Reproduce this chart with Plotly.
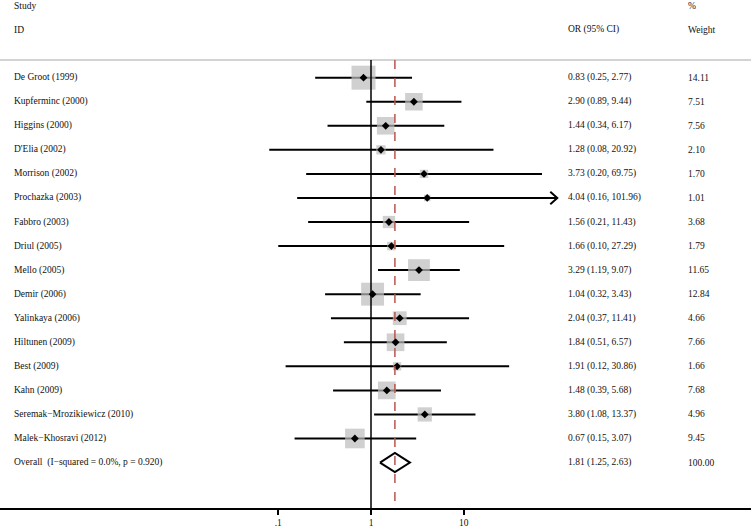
import math
import plotly.graph_objects as go

studies = ["De Groot (1999)", "Kupferminc (2000)", "Higgins (2000)", "D'Elia (2002)",
           "Morrison (2002)", "Prochazka (2003)", "Fabbro (2003)", "Driul (2005)",
           "Mello (2005)", "Demir (2006)", "Yalinkaya (2006)", "Hiltunen (2009)",
           "Best (2009)", "Kahn (2009)", "Seremak\u2212Mrozikiewicz (2010)", "Malek\u2212Khosravi (2012)"]
odds = [0.83, 2.90, 1.44, 1.28, 3.73, 4.04, 1.56, 1.66, 3.29, 1.04, 2.04, 1.84, 1.91, 1.48, 3.80, 0.67]
lower = [0.25, 0.89, 0.34, 0.08, 0.20, 0.16, 0.21, 0.10, 1.19, 0.32, 0.37, 0.51, 0.12, 0.39, 1.08, 0.15]
upper = [2.77, 9.44, 6.17, 20.92, 69.75, 101.96, 11.43, 27.29, 9.07, 3.43, 11.41, 6.57, 30.86, 5.68, 13.37, 3.07]
weights = [14.11, 7.51, 7.56, 2.10, 1.70, 1.01, 3.68, 1.79, 11.65, 12.84, 4.66, 7.66, 1.66, 7.68, 4.96, 9.45]
overall_label = "Overall  (I\u2212squared = 0.0%, p = 0.920)"
overall_or, overall_lo, overall_hi, overall_w = 1.81, 1.25, 2.63, 100.00
clip_max = 101.96  # CI beyond this drawn as arrow

W, H = 751, 531
FONT = "Liberation Serif"
FS = 9.5
rows = list(range(len(studies)))
overall_row = len(studies)

fig = go.Figure()

# CI lines
for i in rows:
    fig.add_trace(go.Scatter(x=[lower[i], min(upper[i], clip_max)], y=[i, i], mode="lines",
                             line=dict(color="black", width=2), showlegend=False, hoverinfo="skip"))
# arrow for clipped CI
for i in rows:
    if upper[i] >= clip_max:
        k = 10 ** (7 / 92.75)
        fig.add_trace(go.Scatter(x=[upper[i] / k, upper[i], upper[i] / k], y=[i - 0.26, i, i + 0.26],
                                 mode="lines", line=dict(color="black", width=2),
                                 showlegend=False, hoverinfo="skip"))

# weight squares
fig.add_trace(go.Scatter(x=odds, y=rows, mode="markers",
                         marker=dict(symbol="square", color="#bcbcbc",
                                     size=[6.39 * math.sqrt(w) for w in weights], line=dict(width=0)),
                         showlegend=False, hoverinfo="skip"))
# point estimates
fig.add_trace(go.Scatter(x=odds, y=rows, mode="markers",
                         marker=dict(symbol="diamond", color="black", size=6),
                         showlegend=False, hoverinfo="skip"))
# overall diamond
fig.add_trace(go.Scatter(x=[overall_lo, overall_or, overall_hi, overall_or, overall_lo],
                         y=[overall_row, overall_row - 0.4, overall_row, overall_row + 0.4, overall_row],
                         mode="lines", line=dict(color="black", width=2), showlegend=False, hoverinfo="skip"))

y_top, y_bot, sep = -3.23, 17.89, -0.735
shapes = [
    dict(type="line", xref="paper", yref="y", x0=0, x1=1, y0=sep, y1=sep,
         line=dict(color="#c4c4c4", width=1.5)),
    dict(type="line", xref="x", yref="y", x0=1, x1=1, y0=sep, y1=y_bot,
         line=dict(color="black", width=1.5)),
    dict(type="line", xref="x", yref="y", x0=overall_or, x1=overall_or, y0=sep, y1=y_bot,
         line=dict(color="#b8564c", width=1.5, dash="dash")),
]

ann = []
def txt(x_px, y, s):
    ann.append(dict(x=x_px / W, xref="paper", y=y, yref="y", text=s, showarrow=False,
                    xanchor="left", yanchor="middle", font=dict(family=FONT, size=FS, color="#111111")))

txt(12, -3, "Study")
txt(12, -2, "ID")
txt(566, -2, "OR (95% CI)")
txt(686, -3, "%")
txt(686, -2, "Weight")
for i in rows:
    txt(12, i, studies[i])
    txt(566, i, f"{odds[i]:.2f} ({lower[i]:.2f}, {upper[i]:.2f})")
    txt(686, i, f"{weights[i]:.2f}")
txt(12, overall_row, overall_label)
txt(566, overall_row, f"{overall_or:.2f} ({overall_lo:.2f}, {overall_hi:.2f})")
txt(686, overall_row, f"{overall_w:.2f}")

tickvals = [0.1, 1, 10]
ticktext = [".1", "1", "10"]

fig.update_layout(
    width=W, height=H, margin=dict(l=0, r=0, t=0, b=23),
    plot_bgcolor="white", paper_bgcolor="white",
    shapes=shapes, annotations=ann,
    xaxis=dict(type="log", range=[-4.0, 4.097], showgrid=False, zeroline=False,
               showline=True, linecolor="black", linewidth=2,
               ticks="outside", ticklen=5, tickwidth=1.5, tickcolor="black",
               tickvals=tickvals, ticktext=ticktext,
               tickfont=dict(family=FONT, size=FS, color="#111111")),
    yaxis=dict(range=[y_bot, y_top], showgrid=False, zeroline=False, showticklabels=False,
               showline=False),
)

fig.write_html("out.html", config={"displayModeBar": False},
               post_script="document.body.style.margin='0';")
